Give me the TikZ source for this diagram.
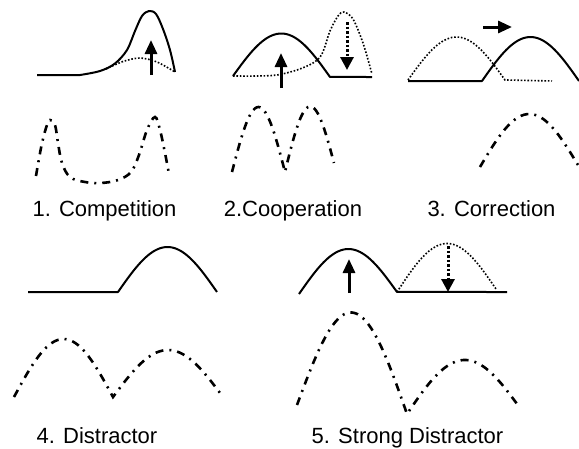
\documentclass[tikz,border=0pt]{standalone}
\usepackage{fontspec}
\setmainfont{Liberation Sans}
\usetikzlibrary{arrows.meta}
\tikzset{
  solidc/.style={line width=2pt, line join=round},
  dotc/.style={line width=1.6pt, dash pattern=on 1.6pt off 1.8pt},
  dd/.style={line width=2.6pt, dash pattern=on 8pt off 6pt on 2pt off 6pt},
  uparr/.style={line width=3pt, -{Triangle[width=12pt,length=14pt]}},
  dotarr/.style={line width=3pt, dash pattern=on 2.5pt off 2pt, -{Triangle[width=13pt,length=13pt]}},
  lbl/.style={anchor=base, inner sep=0pt, font=\fontsize{22pt}{26pt}\selectfont}
}
\begin{document}
\begin{tikzpicture}[x=1pt,y=-1pt]
\useasboundingbox (0,0) rectangle (579,448);
% ---------- Panel 1: Competition ----------
\draw[solidc] (37,75) -- (80,75) -- plot[smooth,tension=0.55] coordinates {(80,75)(100,71)(115,63.5)(127,50)(135,31)(142,16)(149,11)(156,14)(163,29)(170,50)(175,72)};
\draw[dotc] plot[smooth] coordinates {(106,69)(123,61.5)(140,58)(157,62)(175,72)};
\coordinate (a1s) at (151,75); \coordinate (a1e) at (151,40);
\draw[uparr] (a1s) -- (a1e);
\draw[dd] plot[smooth,tension=0.6] coordinates {(36,176)(41,148)(46,128)(50,120)(55,125)(58,143)(62,163)(70,177)(85,182)(101,183)(118,180)(131,172)(139,155)(147,130)(155,117)(160,130)(165,153)(169,174)};
\node[lbl] (l1) at (104.5,216) {1. Competition};
% ---------- Panel 2: Cooperation ----------
\draw[solidc] plot[domain=0:1,samples=41] ({233+97*\x},{76+1*\x-43*sin(180*\x)}) -- (372,77);
\draw[dotc] plot[smooth] coordinates {(233,76)(257,76)(277,75)(297,70)(313,63)(322,54)(330,31)(338,16)(344,12)(353,19)(363,43)(372,74)};
\coordinate (a2s) at (281,88); \coordinate (a2e) at (281,53);
\draw[uparr] (a2s) -- (a2e);
\coordinate (b2s) at (347,22); \coordinate (b2e) at (347,70);
\draw[dotarr] (b2s) -- (b2e);
\draw[dd] plot[domain=0:1,samples=31] ({232+53*\x},{172-65*sin(180*\x)}) -- plot[domain=0:1,samples=31] ({285+49*\x},{172-9*\x-61*sin(180*\x)});
\node[lbl] (l2) at (293,216) {2.Cooperation};
% ---------- Panel 3: Correction ----------
\draw[solidc] (408,81) -- (482,81) -- plot[domain=0:1,samples=41] ({482+97*\x},{81-44*sin(180*\x)});
\draw[dotc] plot[domain=0:1,samples=41] ({408+97*\x},{80-43*sin(180*\x)}) -- (552,81);
\coordinate (c3s) at (483,27); \coordinate (c3e) at (512,27);
\draw[uparr] (c3s) -- (c3e);
\draw[dd] plot[domain=0:1,samples=41] ({480+98*\x},{167-2*\x-52*sin(180*\x)});
\node[lbl] (l3) at (491.5,216) {3. Correction};
% ---------- Panel 4: Distractor ----------
\draw[solidc] (28,292) -- (118,292) -- plot[domain=0:1,samples=41] ({118+99*\x},{292-45*sin(180*\x)});
\draw[dd] plot[domain=0:1,samples=41] ({14+99*\x},{397-58*sin(180*\x)}) -- plot[domain=0:1,samples=41] ({113+110*\x},{397-47*sin(180*\x)});
\node[lbl] (l4) at (97,443) {4. Distractor};
% ---------- Panel 5: Strong Distractor ----------
\draw[solidc] plot[domain=0:1,samples=41] ({299+98*\x},{294-2*\x-44*sin(180*\x)}) -- (507,292);
\draw[dotc] plot[domain=0:1,samples=41] ({397+99*\x},{292-3*\x-47*sin(180*\x)});
\coordinate (a5s) at (349,293); \coordinate (a5e) at (349,259);
\draw[uparr] (a5s) -- (a5e);
\coordinate (b5s) at (448,246); \coordinate (b5e) at (448,292);
\draw[dotarr] (b5s) -- (b5e);
\draw[dd] plot[domain=0:1,samples=41] ({297+110*\x},{405+9*\x-97*sin(180*\x)}) -- plot[domain=0:1,samples=41] ({407+113*\x},{414-6*\x-51*sin(180*\x)});
\node[lbl] (l5) at (407.5,443) {5. Strong Distractor};
\end{tikzpicture}
\end{document}
